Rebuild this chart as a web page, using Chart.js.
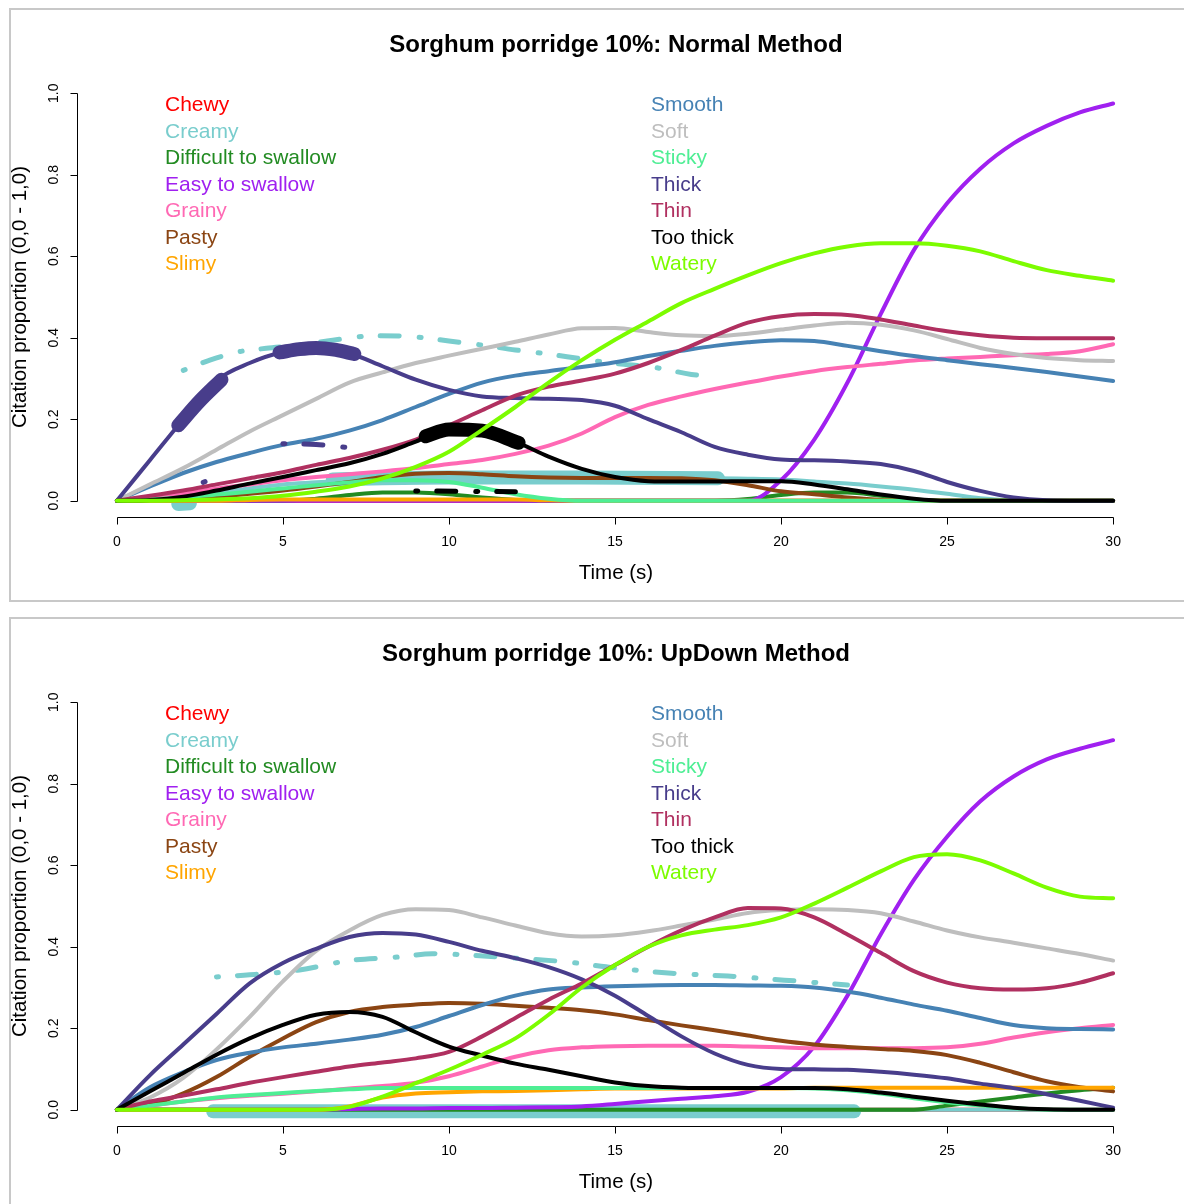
<!DOCTYPE html>
<html>
<head>
<meta charset="utf-8">
<script src="https://cdn.jsdelivr.net/npm/chart.js@4.4.1/dist/chart.umd.min.js"></script>
<style>
  body { margin: 0; background: #fff; overflow: hidden; width: 1184px; height: 1204px; position: relative; }
  .panel { position: absolute; left: 9px; width: 1200px; border: 2px solid #c8c8c8; background: #fff; }
  canvas { position: absolute; left: 0; }
</style>
</head>
<body>
<div class="panel" style="top:8px;height:590px"></div>
<div class="panel" style="top:617px;height:600px"></div>
<canvas id="normal" width="1184" height="609" style="top:0;width:1184px;height:609px"></canvas>
<canvas id="updown" width="1184" height="609" style="top:609px;width:1184px;height:609px"></canvas>
<script>
'use strict';

// ---- data ----
const seconds = [0,1,2,3,4,5,6,7,8,9,10,11,12,13,14,15,16,17,18,19,20,21,22,23,24,25,26,27,28,29,30];
const attributes = ['Chewy','Creamy','Difficult to swallow','Easy to swallow','Grainy','Pasty','Slimy',
                    'Smooth','Soft','Sticky','Thick','Thin','Too thick','Watery'];
const colours = ['#FF0000','#79CDCD','#228B22','#A020F0','#FF69B4','#8B4513','#FFA500',
                 '#4682B4','#BEBEBE','#4EEE94','#483D8B','#B03060','#000000','#7CFC00'];
const xTicks = [0,5,10,15,20,25,30];
const yTicks = [0,0.2,0.4,0.6,0.8,1];
const yTickLabels = ['0.0','0.2','0.4','0.6','0.8','1.0'];

// Normal method
const normChewy     = [0,0,0,0,0,0,0,0,0,0,0,0,0,0,0,0,0,0,0,0,0,0,0,0,0,0,0,0,0,0,0];
const normCreamy    = [0,0.005,0.01,0.02,0.03,0.04,0.045,0.05,0.054,0.056,0.057,0.057,0.057,0.057,0.057,0.056,0.056,0.055,0.055,0.054,0.052,0.047,0.042,0.035,0.027,0.017,0.006,0.001,0,0,0];
const normDifficult = [0,0,0,0,0,0,0.005,0.014,0.02,0.02,0.016,0.008,0.002,0,0,0,0,0,0,0.004,0.014,0.02,0.02,0.012,0.003,0,0,0,0,0,0];
const normEasy      = [0,0,0,0,0,0,0,0,0,0,0,0,0,0,0,0,0,0,0,0,0.05,0.15,0.29,0.458,0.615,0.73,0.815,0.877,0.92,0.953,0.975];
const normGrainy    = [0,0.008,0.018,0.03,0.04,0.05,0.058,0.065,0.072,0.08,0.09,0.1,0.115,0.135,0.165,0.205,0.235,0.256,0.274,0.29,0.305,0.318,0.328,0.336,0.344,0.349,0.353,0.357,0.36,0.367,0.384];
const normPasty     = [0,0.002,0.005,0.01,0.017,0.025,0.035,0.046,0.058,0.066,0.068,0.065,0.06,0.057,0.056,0.056,0.056,0.055,0.05,0.038,0.023,0.016,0.008,0.002,0,0,0,0,0,0,0];
const normSlimy     = [0,0,0,0,0.002,0.003,0.003,0.003,0.003,0.003,0.003,0.003,0.003,0.001,0,0,0,0,0,0,0,0,0,0,0,0,0,0,0,0,0];
const normSmooth    = [0,0.035,0.068,0.095,0.117,0.137,0.152,0.172,0.198,0.23,0.262,0.29,0.307,0.318,0.328,0.34,0.355,0.368,0.38,0.389,0.394,0.392,0.38,0.367,0.355,0.345,0.335,0.326,0.316,0.305,0.294];
const normSoft      = [0,0.04,0.08,0.125,0.17,0.21,0.25,0.29,0.315,0.338,0.356,0.373,0.39,0.408,0.423,0.424,0.414,0.406,0.404,0.41,0.42,0.43,0.437,0.432,0.418,0.397,0.375,0.36,0.35,0.345,0.343];
const normSticky    = [0,0.003,0.008,0.015,0.022,0.03,0.038,0.045,0.05,0.05,0.046,0.032,0.016,0.005,0,0,0,0,0,0,0,0,0,0,0,0,0,0,0,0,0];
const normThick     = [0,0.1,0.2,0.295,0.338,0.365,0.375,0.362,0.33,0.297,0.272,0.256,0.252,0.25,0.247,0.233,0.2,0.168,0.132,0.113,0.101,0.099,0.096,0.09,0.073,0.046,0.024,0.008,0.001,0,0];
const normThin      = [0,0.012,0.025,0.04,0.055,0.07,0.088,0.105,0.125,0.15,0.185,0.222,0.258,0.28,0.295,0.312,0.338,0.37,0.405,0.437,0.453,0.458,0.456,0.445,0.43,0.416,0.406,0.4,0.399,0.399,0.399];
const normTooThick  = [0,0.002,0.01,0.025,0.042,0.058,0.075,0.092,0.115,0.145,0.175,0.172,0.145,0.108,0.078,0.058,0.048,0.047,0.047,0.048,0.048,0.04,0.028,0.015,0.005,0,0,0,0,0,0];
const normWatery    = [0,0,0.001,0.003,0.006,0.012,0.022,0.035,0.055,0.083,0.12,0.174,0.23,0.29,0.345,0.395,0.44,0.485,0.52,0.553,0.583,0.607,0.624,0.632,0.632,0.626,0.612,0.588,0.566,0.552,0.54];

// Normal method: significant (thick) stretches and dashed pieces, [time, proportion]
const normCreamyBand   = [[6.5,0.052],[8,0.055],[10,0.057],[14,0.057],[18.1,0.055]];
const normCreamyDot    = [[1.85,-0.008],[2.2,-0.006]];
const normCreamyDash   = [[2,0.32],[2.8,0.345],[3.7,0.366],[4.5,0.374],[5.5,0.382],[6.5,0.394],[7.8,0.405],[9,0.402],[10,0.392],[11,0.382],[12,0.37],[13,0.36],[14,0.348],[15,0.337],[16.2,0.327],[17.3,0.31],[18,0.304]];
const normThickBand1   = [[1.85,0.185],[2.5,0.245],[3.15,0.297]];
const normThickBand2   = [[4.9,0.364],[5.5,0.372],[6,0.375],[6.6,0.37],[7.15,0.36]];
const normThickDash1   = [[2.6,0.045],[3.0,0.057]];
const normThickDash2   = [[5.0,0.14],[6.0,0.138],[6.9,0.131]];
const normTooThickBand = [[9.3,0.158],[10,0.175],[11,0.172],[12.1,0.142]];
const normTooThickDash = [[9.0,0.024],[12.0,0.022]];

// UpDown method
const udChewy     = [0,0,0,0,0,0,0,0,0,0,0,0,0,0,0,0,0,0,0,0,0,0,0,0,0,0,0,0,0,0,0];
const udCreamy    = [0,0,0,0,0,0,0,0,0,0,0,0,0,0,0,0,0,0,0,0,0,0,0,0,0,0,0,0,0,0,0];
const udDifficult = [0,0,0,0,0,0,0,0,0,0,0,0,0,0,0,0,0,0,0,0,0,0,0,0,0,0.01,0.02,0.03,0.04,0.048,0.054];
const udEasy      = [0,0,0,0,0,0,0,0.002,0.003,0.003,0.004,0.004,0.005,0.006,0.008,0.014,0.021,0.027,0.033,0.044,0.08,0.155,0.28,0.43,0.564,0.67,0.757,0.818,0.86,0.886,0.907];
const udGrainy    = [0,0.01,0.02,0.028,0.034,0.039,0.045,0.052,0.058,0.066,0.082,0.106,0.13,0.146,0.153,0.156,0.157,0.157,0.157,0.155,0.153,0.151,0.151,0.151,0.151,0.153,0.162,0.177,0.19,0.2,0.208];
const udPasty     = [0,0.012,0.04,0.08,0.13,0.175,0.215,0.24,0.252,0.258,0.262,0.26,0.255,0.25,0.244,0.234,0.22,0.207,0.195,0.182,0.169,0.16,0.154,0.149,0.144,0.134,0.115,0.092,0.07,0.055,0.045];
const udSlimy     = [0,0,0,0,0,0,0,0.008,0.03,0.04,0.043,0.045,0.046,0.048,0.05,0.052,0.052,0.052,0.052,0.052,0.052,0.054,0.054,0.054,0.054,0.054,0.054,0.054,0.054,0.054,0.054];
const udSmooth    = [0,0.055,0.092,0.122,0.14,0.153,0.162,0.172,0.184,0.203,0.23,0.257,0.28,0.295,0.3,0.303,0.305,0.306,0.306,0.305,0.304,0.3,0.29,0.275,0.258,0.243,0.225,0.208,0.2,0.198,0.197];
const udSoft      = [0,0.03,0.078,0.148,0.228,0.315,0.39,0.44,0.478,0.492,0.49,0.472,0.452,0.433,0.425,0.428,0.438,0.452,0.467,0.483,0.49,0.492,0.49,0.482,0.462,0.44,0.423,0.41,0.396,0.382,0.366];
const udSticky    = [0,0.01,0.02,0.03,0.036,0.041,0.046,0.05,0.053,0.053,0.053,0.053,0.053,0.053,0.053,0.053,0.053,0.053,0.053,0.053,0.053,0.052,0.048,0.04,0.028,0.018,0.01,0.004,0,0,0];
const udThick     = [0,0.085,0.16,0.235,0.31,0.36,0.395,0.424,0.434,0.43,0.412,0.39,0.372,0.35,0.32,0.28,0.23,0.18,0.138,0.11,0.1,0.099,0.098,0.093,0.086,0.077,0.064,0.053,0.038,0.022,0.005];
const udThin      = [0,0.02,0.035,0.05,0.066,0.08,0.093,0.106,0.116,0.126,0.142,0.18,0.225,0.27,0.31,0.355,0.4,0.44,0.472,0.495,0.494,0.472,0.43,0.385,0.34,0.312,0.298,0.295,0.298,0.312,0.335];
const udTooThick  = [0,0.045,0.09,0.135,0.175,0.208,0.233,0.24,0.228,0.19,0.155,0.133,0.113,0.098,0.082,0.067,0.058,0.054,0.053,0.053,0.053,0.053,0.05,0.042,0.032,0.022,0.013,0.005,0.001,0,0];
const udWatery    = [0,0,0,0,0,0,0,0.007,0.032,0.065,0.098,0.135,0.175,0.233,0.3,0.355,0.4,0.428,0.442,0.453,0.472,0.506,0.545,0.585,0.62,0.627,0.612,0.58,0.545,0.523,0.519];

const udCreamyBand = [[2.9,-0.004],[10,-0.004],[22.2,-0.004]];
const udCreamyDash = [[3,0.326],[4,0.331],[5.5,0.343],[7,0.366],[8.5,0.375],[9.5,0.383],[10.5,0.38],[12,0.372],[13.5,0.363],[15,0.348],[16.7,0.335],[18.4,0.328],[20.1,0.318],[22,0.306]];

const FONT = "'Liberation Sans', Arial, sans-serif";

// ---- helpers ----
function curve(values) {
    return seconds.map((t, i) => ({ x: t, y: values[i] }));
}
function pts(pairs) {
    return pairs.map(p => ({ x: p[0], y: p[1] }));
}

function buildDatasets(series, extras) {
    const list = [];
    attributes.forEach((name, i) => {
        list.push({ label: name, data: curve(series[i]), borderColor: colours[i], borderWidth: 4 });
        extras.filter(e => e.attr === i).forEach(e => {
            if (e.kind === 'band') {
                list.push({ label: name + ' band', data: pts(e.points), borderColor: colours[i], borderWidth: 14 });
            } else {
                list.push({ label: name + ' dash', data: pts(e.points), borderColor: colours[i], borderWidth: 5, borderDash: [2, 19, 19, 20] });
            }
        });
    });
    // R draws in legend order: first drawn ends up underneath
    return list.map((d, k) => Object.assign({
        fill: false, pointRadius: 0, cubicInterpolationMode: 'monotone',
        borderCapStyle: 'round', borderJoinStyle: 'round', order: list.length - k
    }, d));
}

// axes, titles and the coloured text legend, R style
const baseAxes = {
    id: 'baseAxes',
    afterDraw(chart, args, opts) {
        const ctx = chart.ctx, xs = chart.scales.x, ys = chart.scales.y, a = chart.chartArea;
        ctx.save();
        ctx.strokeStyle = '#000';
        ctx.fillStyle = '#000';
        ctx.lineWidth = 1;

        // x axis
        const yAx = Math.round(a.bottom) + 0.5;
        ctx.beginPath();
        ctx.moveTo(Math.round(xs.getPixelForValue(0)) + 0.5, yAx);
        ctx.lineTo(Math.round(xs.getPixelForValue(30)) + 0.5, yAx);
        xTicks.forEach(t => {
            const px = Math.round(xs.getPixelForValue(t)) + 0.5;
            ctx.moveTo(px, yAx);
            ctx.lineTo(px, yAx + 7);
        });
        // y axis
        const xAx = Math.round(a.left) + 0.5;
        ctx.moveTo(xAx, Math.round(ys.getPixelForValue(0)) + 0.5);
        ctx.lineTo(xAx, Math.round(ys.getPixelForValue(1)) + 0.5);
        yTicks.forEach(v => {
            const py = Math.round(ys.getPixelForValue(v)) + 0.5;
            ctx.moveTo(xAx, py);
            ctx.lineTo(xAx - 7, py);
        });
        ctx.stroke();

        // tick labels
        ctx.font = '14px ' + FONT;
        ctx.textAlign = 'center';
        ctx.textBaseline = 'middle';
        xTicks.forEach(t => ctx.fillText(String(t), xs.getPixelForValue(t), a.bottom + 25));
        yTicks.forEach((v, i) => {
            ctx.save();
            ctx.translate(a.left - 23, ys.getPixelForValue(v));
            ctx.rotate(-Math.PI / 2);
            ctx.fillText(yTickLabels[i], 0, 0);
            ctx.restore();
        });

        // axis titles
        const cx = (a.left + a.right) / 2;
        ctx.font = '20.5px ' + FONT;
        ctx.fillText('Time (s)', cx + 1, a.bottom + 56);
        ctx.save();
        ctx.translate(20, (a.top + a.bottom) / 2);
        ctx.rotate(-Math.PI / 2);
        ctx.fillText('Citation proportion (0,0 - 1,0)', 0, 0);
        ctx.restore();

        // main title
        ctx.font = 'bold 24px ' + FONT;
        ctx.fillText(opts.title, cx + 1, 45);

        // legend (two columns of coloured labels)
        ctx.font = '21px ' + FONT;
        ctx.textAlign = 'left';
        attributes.forEach((name, i) => {
            const col = i < 7 ? 0 : 1;
            const row = i % 7;
            ctx.fillStyle = colours[i];
            ctx.fillText(name, col === 0 ? 165 : 651, 105.5 + row * 26.5);
        });
        ctx.restore();
    }
};

function makePanel(id, title, series, extras) {
    return new Chart(document.getElementById(id), {
        type: 'line',
        data: { datasets: buildDatasets(series, extras) },
        options: {
            responsive: false,
            animation: false,
            events: [],
            devicePixelRatio: 1,
            layout: { padding: { left: 77, right: 31, top: 77, bottom: 92 } },
            scales: {
                x: { type: 'linear', min: -1.2, max: 31.2, display: false },
                y: { type: 'linear', min: -0.04, max: 1.04, display: false }
            },
            plugins: {
                legend: { display: false },
                tooltip: { enabled: false },
                baseAxes: { title: title }
            }
        },
        plugins: [baseAxes]
    });
}

makePanel('normal', 'Sorghum porridge 10%: Normal Method',
    [normChewy, normCreamy, normDifficult, normEasy, normGrainy, normPasty, normSlimy,
     normSmooth, normSoft, normSticky, normThick, normThin, normTooThick, normWatery],
    [
        { attr: 1, kind: 'band', points: normCreamyBand },
        { attr: 1, kind: 'band', points: normCreamyDot },
        { attr: 1, kind: 'dash', points: normCreamyDash },
        { attr: 10, kind: 'band', points: normThickBand1 },
        { attr: 10, kind: 'band', points: normThickBand2 },
        { attr: 10, kind: 'dash', points: normThickDash1 },
        { attr: 10, kind: 'dash', points: normThickDash2 },
        { attr: 12, kind: 'band', points: normTooThickBand },
        { attr: 12, kind: 'dash', points: normTooThickDash }
    ]);

makePanel('updown', 'Sorghum porridge 10%: UpDown Method',
    [udChewy, udCreamy, udDifficult, udEasy, udGrainy, udPasty, udSlimy,
     udSmooth, udSoft, udSticky, udThick, udThin, udTooThick, udWatery],
    [
        { attr: 1, kind: 'band', points: udCreamyBand },
        { attr: 1, kind: 'dash', points: udCreamyDash }
    ]);
</script>
</body>
</html>
